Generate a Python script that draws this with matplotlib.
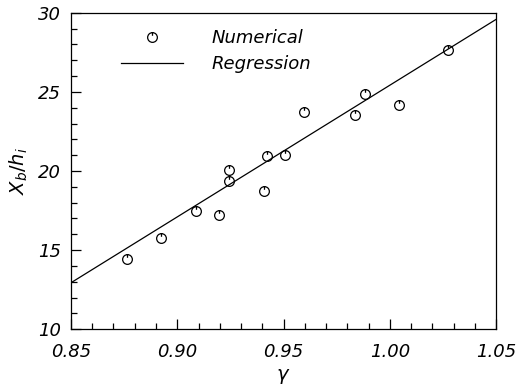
import numpy as np
import matplotlib
matplotlib.use("Agg")
import matplotlib.pyplot as plt
from matplotlib.path import Path
from matplotlib.ticker import MultipleLocator, FixedLocator

# Numerical data (gamma, Xb/hi)
gamma = [0.8764, 0.8924, 0.9087, 0.9196, 0.9245, 0.9245, 0.9410, 0.9421,
         0.9505, 0.9595, 0.9835, 0.9882, 1.0041, 1.0272]
xb_hi = [14.42, 15.79, 17.47, 17.22, 19.34, 20.05, 18.73, 20.96,
         21.02, 23.76, 23.51, 24.89, 24.20, 27.66]

# Regression line endpoints
reg_gamma = [0.85, 1.05]
reg_xb = [12.94, 29.58]

x_ticks = [0.85, 0.90, 0.95, 1.00, 1.05]
x_ticklabels = ["0.85", "0.90", "0.95", "1.00", "1.05"]
y_ticks = [10, 15, 20, 25, 30]
y_ticklabels = ["10", "15", "20", "25", "30"]

# custom marker: circle with a short stroke from the top
circ = Path.unit_circle()
verts = list(circ.vertices) + [(0, 1.0), (0, 0.35)]
codes = list(circ.codes) + [Path.MOVETO, Path.LINETO]
marker_path = Path(verts, codes)

fig = plt.figure(figsize=(5.2, 3.92), dpi=100)
ax = fig.add_axes([0.1365, 0.16, 0.8175, 0.8075])

font = dict(family="DejaVu Sans", style="italic")

ax.plot(reg_gamma, reg_xb, color="black", lw=0.9, label="Regression")
ax.plot(gamma, xb_hi, linestyle="none", marker=marker_path, markersize=7,
        markerfacecolor="none", markeredgecolor="black", markeredgewidth=0.9,
        label="Numerical")

ax.set_xlim(0.85, 1.05)
ax.set_ylim(10, 30)
ax.xaxis.set_major_locator(FixedLocator(x_ticks))
ax.set_xticklabels(x_ticklabels, fontsize=13, **font)
ax.yaxis.set_major_locator(FixedLocator(y_ticks))
ax.set_yticklabels(y_ticklabels, fontsize=13, **font)
ax.xaxis.set_minor_locator(MultipleLocator(0.01))
ax.yaxis.set_minor_locator(MultipleLocator(1))
ax.tick_params(axis="x", which="major", pad=10)
ax.tick_params(axis="y", which="major", pad=7)
ax.tick_params(which="major", direction="in", length=7.5, width=0.9,
               top=False, right=False)
ax.tick_params(which="minor", direction="in", length=4.5, width=0.9,
               top=False, right=False)
for s in ax.spines.values():
    s.set_linewidth(0.9)

ax.set_xlabel(r"$\gamma$", fontsize=14, labelpad=4)
ax.set_ylabel(r"$X_b/h_i$", fontsize=14, labelpad=6)

handles, labels = ax.get_legend_handles_labels()
leg = ax.legend(handles[::-1], labels[::-1], loc="upper left",
                bbox_to_anchor=(0.08, 1.0), frameon=False,
                handlelength=3.4, handletextpad=1.6, labelspacing=0.45,
                prop=dict(family="DejaVu Sans", style="italic", size=13))

fig.savefig("out.png", dpi=100)
